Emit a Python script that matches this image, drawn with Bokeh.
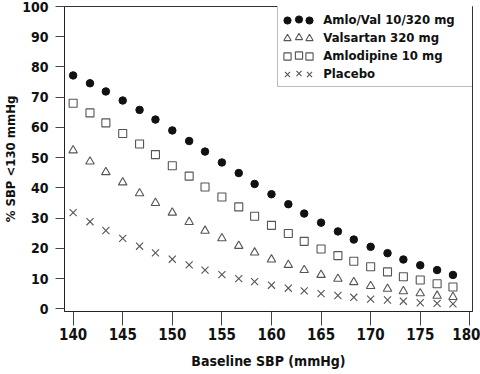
from bokeh.plotting import figure
from bokeh.models import Legend, LegendItem, Range1d, FixedTicker
from bokeh.embed import file_html
from bokeh.resources import INLINE

# ---- data ----
baseline_sbp = [140.0, 141.7, 143.3, 145.0, 146.7, 148.3, 150.0, 151.7, 153.3, 155.0,
                156.7, 158.3, 160.0, 161.7, 163.3, 165.0, 166.7, 168.3, 170.0, 171.7,
                173.3, 175.0, 176.7, 178.3]
amlo_val = [77.2, 74.6, 71.9, 68.9, 65.8, 62.6, 59.0, 55.5, 52.0, 48.4, 44.9, 41.3,
            37.9, 34.6, 31.5, 28.5, 25.6, 22.9, 20.5, 18.4, 16.3, 14.4, 12.8, 11.2]
valsartan = [52.4, 48.7, 45.2, 41.8, 38.2, 35.0, 31.8, 28.7, 25.8, 23.3, 20.8, 18.6,
             16.3, 14.5, 12.8, 11.2, 9.9, 8.8, 7.5, 6.6, 5.8, 5.1, 4.3, 3.9]
amlodipine = [68.0, 64.8, 61.5, 58.0, 54.5, 51.0, 47.3, 43.9, 40.3, 37.0, 33.7, 30.6,
              27.6, 24.9, 22.3, 19.8, 17.6, 15.7, 13.9, 12.2, 10.6, 9.5, 8.3, 7.2]
placebo = [31.8, 28.8, 25.9, 23.3, 20.7, 18.5, 16.4, 14.5, 12.8, 11.3, 10.0, 9.0,
           7.8, 6.8, 5.9, 5.0, 4.4, 3.8, 3.2, 2.9, 2.5, 2.0, 1.8, 1.6]
series_names = ["Amlo/Val 10/320 mg", "Valsartan 320 mg", "Amlodipine 10 mg", "Placebo"]
x_ticks = [140, 145, 150, 155, 160, 165, 170, 175, 180]
y_ticks = [0, 10, 20, 30, 40, 50, 60, 70, 80, 90, 100]

FONT = "DejaVu Sans Condensed"
GRAY = "#555555"
W, H = 480, 374
B_LEFT, B_RIGHT, B_TOP, B_BOTTOM = 59, 8, 6, 63

p = figure(width=W, height=H, output_backend="svg", toolbar_location=None,
           x_range=Range1d(139.13, 180.27), y_range=Range1d(-0.9, 100),
           min_border_left=B_LEFT, min_border_right=B_RIGHT,
           min_border_top=B_TOP, min_border_bottom=B_BOTTOM)
p.xgrid.visible = False
p.ygrid.visible = False
p.outline_line_color = "#333333"
p.outline_line_width = 1
p.background_fill_color = "white"
p.border_fill_color = "white"

# axes
p.xaxis.ticker = FixedTicker(ticks=x_ticks)
p.yaxis.ticker = FixedTicker(ticks=y_ticks)
p.xaxis.minor_tick_line_color = None
p.yaxis.minor_tick_line_color = None
p.xaxis.major_tick_in = 0
p.yaxis.major_tick_in = 0
p.xaxis.major_tick_out = 14
p.yaxis.major_tick_out = 9
for ax in (p.xaxis, p.yaxis):
    ax.axis_line_color = "#222222"
    ax.major_tick_line_color = "#444444"
    ax.major_label_text_font = FONT
    ax.major_label_text_font_style = "bold"
    ax.major_label_text_color = "#111111"
    ax.axis_label_text_font = FONT
    ax.axis_label_text_font_style = "bold"
    ax.axis_label_text_color = "#111111"
p.xaxis.major_label_text_font_size = "15px"
p.yaxis.major_label_text_font_size = "14px"
p.xaxis.major_label_standoff = 2
p.yaxis.major_label_standoff = 7
p.xaxis.axis_label = "Baseline SBP (mmHg)"
p.yaxis.axis_label = "% SBP <130 mmHg"
p.xaxis.axis_label_text_font_size = "14px"
p.yaxis.axis_label_text_font_size = "13px"
p.xaxis.axis_label_standoff = 10
p.yaxis.axis_label_standoff = 1

# series
r_av = p.scatter(baseline_sbp, amlo_val, marker="circle", size=7.5,
                 fill_color="#111111", line_color="#111111")
r_va = p.scatter(baseline_sbp, valsartan, marker="triangle", size=8.5,
                 fill_color=None, line_color=GRAY, line_width=1.1)
r_am = p.scatter(baseline_sbp, amlodipine, marker="square", size=8,
                 fill_color=None, line_color=GRAY, line_width=1.1)
r_pl = p.scatter(baseline_sbp, placebo, marker="x", size=10,
                 line_color=GRAY, line_width=1.1)
renderers = [r_av, r_va, r_am, r_pl]

# legend: main box with the middle marker and the labels
FRAME_H = H - B_TOP - B_BOTTOM
LEG_H = 2 * 4 + 4 * 18
leg_vy = FRAME_H - 1 - LEG_H

main = Legend(items=[LegendItem(label=n, renderers=[r]) for n, r in zip(series_names, renderers)],
              location=(213.3, leg_vy), orientation="vertical",
              padding=4, spacing=0, margin=0,
              glyph_width=33, glyph_height=18, label_height=18,
              label_standoff=8, label_width=148,
              label_text_font=FONT, label_text_font_style="bold",
              label_text_font_size="13px", label_text_color="#111111",
              border_line_color="#777777", border_line_width=1.2,
              background_fill_color="white", background_fill_alpha=1.0)
p.add_layout(main)

# side legends: left/right markers so each row shows three marks
for lx in (209.7, 232.3):
    side = Legend(items=[LegendItem(label=" ", renderers=[r]) for r in renderers],
                  location=(lx, leg_vy), orientation="vertical",
                  padding=4, spacing=0, margin=0,
                  glyph_width=18, glyph_height=18, label_height=18,
                  label_standoff=0, label_width=0,
                  label_text_font=FONT, label_text_font_size="13px", label_text_alpha=0,
                  border_line_alpha=0, background_fill_alpha=0)
    p.add_layout(side)

open("out.html", "w").write(file_html(p, INLINE))
